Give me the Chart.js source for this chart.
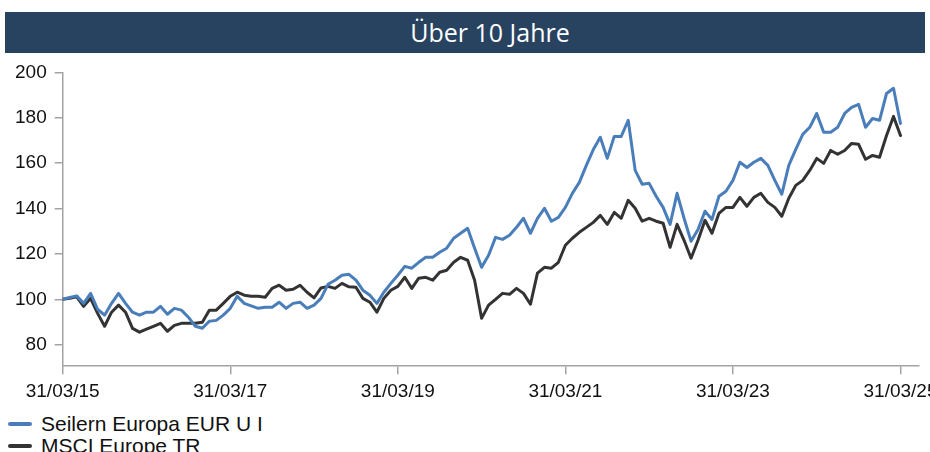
<!DOCTYPE html>
<html>
<head>
<meta charset="utf-8">
<script src="https://cdn.jsdelivr.net/npm/chart.js@4"></script>
<style>
  body { margin: 0; width: 930px; height: 452px; overflow: hidden; background: #fff; position: relative; font-family: "Liberation Sans", Arial, sans-serif; }
  #head { position: absolute; left: 5px; top: 12px; width: 920px; height: 41px; background: #284360; color: #fff;
          font: 25px "Open Sans", sans-serif; line-height: 41px; }
  #head span { position: absolute; left: 485px; transform: translateX(-50%); white-space: nowrap; top: 0; }
  #wrap { position: absolute; left: 0; top: 53px; width: 944px; height: 356px; }
  #legend { position: absolute; left: 8px; top: 413px; font-size: 21px; color: #111; }
  .row { display: flex; align-items: center; height: 22px; }
  .sw { width: 24px; height: 4px; border-radius: 2px; margin-right: 9px; }
</style>
</head>
<body>
<div id="head"><span>Über 10 Jahre</span></div>
<div id="wrap"><canvas id="chart" width="944" height="356"></canvas></div>
<div id="legend"></div>
<script>
// month-end dates, 31/03/2015 .. 31/03/2025
let months = [];
for (let y = 2015, m = 3; months.length < 121; m++) {
    if (m > 12) { m = 1; y++; }
    months.push(y + '-' + String(m).padStart(2, '0'));
}

let tickIdx = [0, 24, 48, 72, 96, 120];
let tickLabels = ['31/03/15', '31/03/17', '31/03/19', '31/03/21', '31/03/23', '31/03/25'];

let seriesNames = ['Seilern Europa EUR U I', 'MSCI Europe TR'];
let seriesColors = ['#4a7ebb', '#333333'];

let seilern = [
    100.0, 100.8, 101.5, 98.2, 102.6, 95.6, 93.0, 98.2, 102.6, 98.2,
    94.3, 93.0, 94.3, 94.3, 96.9, 93.4, 96.0, 95.2, 92.1, 88.1,
    87.2, 90.3, 90.7, 93.0, 96.0, 101.3, 98.2, 97.1, 96.0, 96.5,
    96.5, 98.7, 96.0, 98.2, 98.7, 96.0, 97.4, 100.4, 106.6, 108.4,
    110.6, 111.0, 108.4, 104.0, 101.8, 98.2, 103.1, 107.0, 110.6, 114.5,
    113.7, 116.3, 118.5, 118.5, 120.7, 122.5, 126.9, 129.1, 131.3, 122.5,
    114.1, 119.4, 127.3, 126.4, 128.2, 131.7, 135.7, 129.1, 135.7, 140.1,
    134.4, 136.1, 140.5, 146.7, 151.5, 159.0, 166.0, 171.4, 162.1, 171.8,
    171.8, 178.9, 156.8, 150.7, 151.1, 145.4, 140.5, 133.0, 146.7, 135.7,
    125.6, 130.8, 138.8, 135.2, 145.4, 147.6, 152.4, 160.4, 158.1, 160.4,
    162.1, 159.0, 152.4, 146.3, 159.0, 166.1, 172.7, 175.8, 181.9, 173.6,
    173.6, 175.8, 181.9, 184.6, 185.9, 175.8, 179.7, 178.9, 190.7, 193.0,
    177.5
];

let msci = [
    100.0, 100.4, 101.1, 96.9, 100.4, 93.8, 88.1, 94.3, 97.4, 94.3,
    87.2, 85.5, 86.8, 88.1, 89.4, 85.9, 88.5, 89.4, 89.4, 89.4,
    89.9, 95.2, 95.2, 98.2, 101.3, 103.1, 101.8, 101.3, 101.3, 100.9,
    104.8, 106.2, 104.0, 104.4, 106.2, 103.1, 100.6, 105.0, 105.7, 104.8,
    107.0, 105.5, 105.3, 100.4, 98.7, 94.3, 100.4, 104.0, 105.7, 109.7,
    104.8, 109.3, 109.7, 108.4, 111.9, 112.8, 116.3, 118.5, 117.2, 108.4,
    91.6, 97.4, 100.0, 102.6, 102.2, 104.8, 102.6, 97.8, 111.5, 114.1,
    113.7, 116.3, 123.8, 126.9, 129.5, 131.7, 133.9, 137.0, 133.0, 138.3,
    135.7, 143.6, 140.1, 134.4, 135.7, 134.4, 133.5, 122.9, 133.0, 126.0,
    118.1, 126.0, 134.8, 129.1, 137.9, 140.5, 140.5, 144.9, 141.0, 144.9,
    146.7, 142.7, 140.5, 136.6, 144.5, 150.2, 152.4, 156.8, 162.1, 159.9,
    165.6, 163.9, 165.6, 168.7, 168.3, 161.7, 163.4, 162.6, 172.2, 180.6,
    172.2
];

let yTicks = [80, 100, 120, 140, 160, 180, 200];

function toPoints(values) {
    return values.map((v, i) => ({ x: i, y: v }));
}

let axisGrey = '#a3a3a3';
let tickFont = { family: '"Liberation Sans", Arial, sans-serif', size: 19 };

let ctx = document.getElementById('chart').getContext('2d');
let chart = new Chart(ctx, {
    type: 'line',
    data: {
        datasets: [
            { label: seriesNames[0], data: toPoints(seilern), borderColor: seriesColors[0], backgroundColor: seriesColors[0] },
            { label: seriesNames[1], data: toPoints(msci), borderColor: seriesColors[1], backgroundColor: seriesColors[1] }
        ]
    },
    options: {
        responsive: false,
        animation: false,
        layout: { padding: { left: 7, top: 14, right: 25, bottom: 0 } },
        elements: {
            point: { radius: 0 },
            line: { borderWidth: 3, tension: 0, borderJoinStyle: 'round', borderCapStyle: 'round' }
        },
        plugins: { legend: { display: false }, tooltip: { enabled: false } },
        scales: {
            x: {
                type: 'linear',
                min: 0,
                max: 122.6,
                afterBuildTicks: s => { s.ticks = tickIdx.map(v => ({ value: v })); },
                ticks: {
                    color: '#111',
                    font: tickFont,
                    padding: 6,
                    maxRotation: 0,
                    autoSkip: false,
                    callback: v => tickLabels[tickIdx.indexOf(v)]
                },
                grid: { drawOnChartArea: false, color: axisGrey, lineWidth: 1.5, tickLength: 8 },
                border: { color: axisGrey, width: 1.5 }
            },
            y: {
                min: 70.5,
                max: 200,
                afterBuildTicks: s => { s.ticks = yTicks.map(v => ({ value: v })); },
                ticks: { color: '#111', font: tickFont, padding: 8 },
                grid: { drawOnChartArea: false, color: axisGrey, lineWidth: 1.5, tickLength: 8 },
                border: { color: axisGrey, width: 1.5 }
            }
        }
    }
});

let legend = document.getElementById('legend');
seriesNames.forEach((name, i) => {
    let row = document.createElement('div');
    row.className = 'row';
    row.innerHTML = '<span class="sw" style="background:' + seriesColors[i] + '"></span><span>' + name + '</span>';
    legend.appendChild(row);
});
</script>
</body>
</html>
